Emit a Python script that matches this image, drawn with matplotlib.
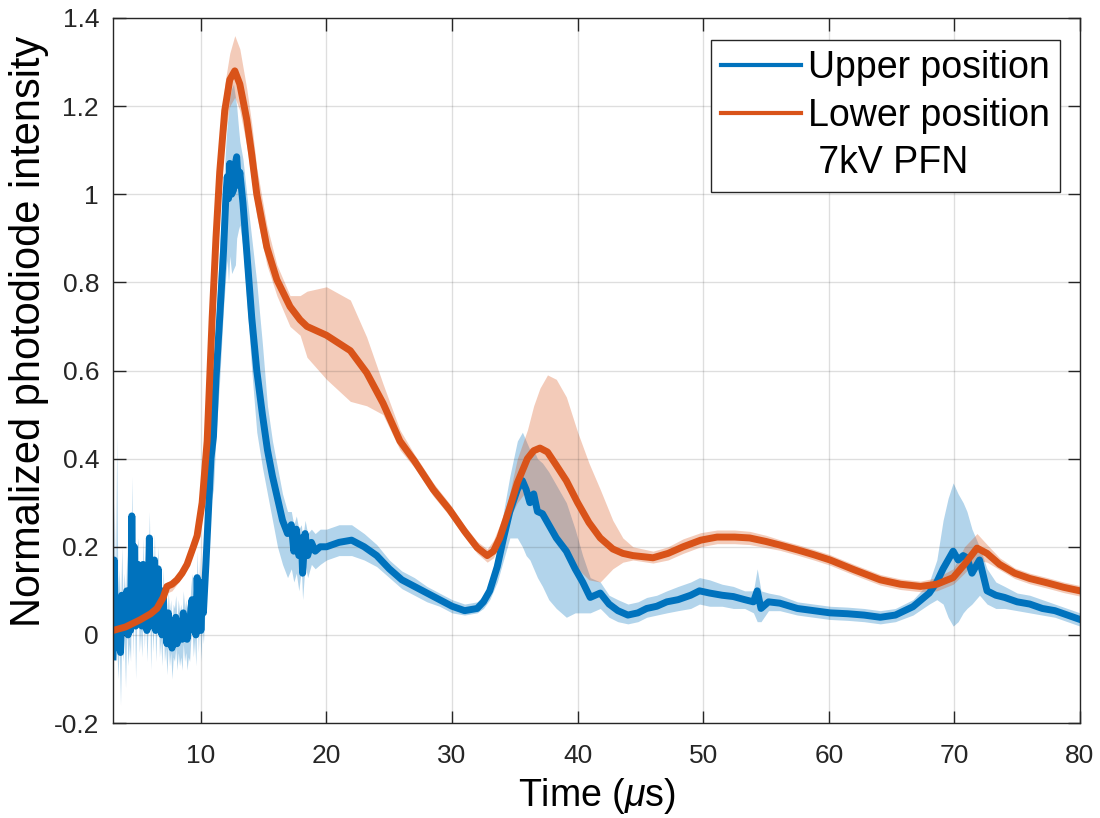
import numpy as np
import matplotlib
matplotlib.use("Agg")
import matplotlib.pyplot as plt
from matplotlib.lines import Line2D
from matplotlib.ticker import FuncFormatter, MultipleLocator

plt.rcParams["font.family"] = ["Liberation Sans", "DejaVu Sans"]
plt.rcParams["mathtext.fontset"] = "custom"
plt.rcParams["mathtext.it"] = "Liberation Sans:italic"
plt.rcParams["mathtext.rm"] = "Liberation Sans"

# --- upper position (blue): noisy pre-trigger part, 0.1 us sampling ---
upper_t_early = np.round(np.arange(3.0, 10.25, 0.1), 1)
upper_early = [
    -0.05, 0.17, 0.02, 0.08, -0.03, 0.06, -0.04, 0.09, 0.01, 0.07,
    0.02, 0.10, 0.00, 0.05, 0.01, 0.27, 0.03, 0.20, 0.02, 0.12,
    0.16, 0.03, 0.08, 0.02, 0.16, 0.04, 0.13, 0.01, 0.09, 0.22,
    0.02, 0.10, 0.03, 0.17, 0.01, 0.08, 0.15, 0.02, 0.06, 0.00,
    0.10, 0.01, 0.04, -0.02, 0.05, 0.00, 0.03, -0.03, 0.02, 0.01,
    0.04, -0.02, 0.03, 0.00, 0.02, -0.01, 0.05, 0.01, 0.03, -0.01,
    0.02, 0.01, 0.06, 0.08, 0.02, 0.06, 0.00, 0.13, 0.03, 0.12,
    0.01, 0.08, 0.05,
]
upper_early_hi = [
    0.05, 0.30, 0.10, 0.45, 0.06, 0.15, 0.05, 0.20, 0.08, 0.14,
    0.08, 0.18, 0.06, 0.12, 0.07, 0.36, 0.09, 0.27, 0.08, 0.19,
    0.22, 0.08, 0.14, 0.07, 0.22, 0.09, 0.19, 0.06, 0.15, 0.28,
    0.07, 0.16, 0.08, 0.23, 0.06, 0.13, 0.20, 0.07, 0.11, 0.05,
    0.15, 0.06, 0.09, 0.03, 0.10, 0.05, 0.08, 0.02, 0.07, 0.06,
    0.09, 0.03, 0.08, 0.05, 0.07, 0.04, 0.10, 0.06, 0.08, 0.04,
    0.07, 0.06, 0.11, 0.14, 0.07, 0.11, 0.05, 0.19, 0.08, 0.18,
    0.06, 0.13, 0.12,
]
upper_early_lo = [
    -0.12, 0.05, -0.06, -0.02, -0.10, -0.02, -0.16, 0.00, -0.06, -0.01,
    -0.12, 0.02, -0.07, -0.02, -0.06, 0.15, -0.05, 0.10, -0.10, 0.04,
    0.07, -0.04, 0.01, -0.05, 0.08, -0.03, 0.06, -0.06, 0.02, 0.14,
    -0.08, 0.03, -0.04, 0.10, -0.06, 0.01, 0.08, -0.05, -0.01, -0.07,
    0.03, -0.06, -0.03, -0.09, -0.02, -0.07, -0.04, -0.10, -0.05, -0.06,
    -0.03, -0.08, -0.04, -0.07, -0.05, -0.08, -0.02, -0.06, -0.04, -0.08,
    -0.05, -0.06, -0.01, 0.01, -0.05, -0.01, -0.07, 0.06, -0.04, 0.05,
    -0.06, 0.02, -0.02,
]

# --- upper position (blue): main pulse and after ---
upper_t = [
    10.4, 10.6, 10.8, 11.0, 11.2, 11.5, 11.8, 12.0, 12.1, 12.2,
    12.3, 12.45, 12.6, 12.75, 12.85, 13.0, 13.1, 13.35, 13.65, 14.05,
    14.45, 14.9, 15.3, 15.7, 16.1, 16.5, 16.9, 17.2, 17.4, 17.6,
    17.8, 18.0, 18.1, 18.3, 18.5, 18.8, 19.1, 19.5, 20.0, 21.0,
    22.0, 23.0, 24.0, 25.0, 26.0, 27.0, 28.0, 29.0, 30.0, 31.0,
    32.0, 32.5, 33.0, 33.6, 34.1, 34.6, 35.2, 35.6, 35.9, 36.2,
    36.5, 36.8, 37.2, 37.7, 38.3, 39.1, 39.8, 40.4, 41.0, 41.8,
    42.5, 43.2, 44.0, 44.8, 45.5, 46.3, 47.1, 48.0, 49.0, 49.7,
    50.5, 51.5, 52.4, 53.3, 54.0, 54.3, 54.6, 55.2, 56.1, 57.5,
    58.8, 60.1, 61.5, 62.8, 64.1, 65.3, 66.7, 68.0, 68.6, 69.1,
    69.5, 69.9, 70.3, 70.7, 71.0, 71.4, 72.0, 72.6, 73.3, 74.0,
    75.0, 76.0, 77.0, 78.0, 79.0, 80.0,
]
upper_mean = [
    0.16, 0.28, 0.40, 0.45, 0.58, 0.72, 0.87, 1.00, 1.04, 0.99,
    1.07, 1.00, 1.01, 1.07, 1.085, 1.02, 1.05, 0.98, 0.87, 0.72,
    0.60, 0.50, 0.42, 0.36, 0.31, 0.26, 0.23, 0.25, 0.19, 0.24,
    0.18, 0.22, 0.14, 0.23, 0.18, 0.21, 0.19, 0.20, 0.20, 0.21,
    0.215, 0.20, 0.18, 0.15, 0.125, 0.11, 0.095, 0.08, 0.065, 0.055,
    0.06, 0.075, 0.10, 0.155, 0.22, 0.28, 0.33, 0.35, 0.33, 0.30,
    0.32, 0.28, 0.275, 0.25, 0.22, 0.19, 0.15, 0.12, 0.085, 0.095,
    0.07, 0.055, 0.045, 0.05, 0.06, 0.065, 0.075, 0.08, 0.09, 0.10,
    0.095, 0.09, 0.087, 0.08, 0.075, 0.10, 0.06, 0.075, 0.072, 0.06,
    0.055, 0.05, 0.048, 0.045, 0.04, 0.045, 0.064, 0.095, 0.12, 0.15,
    0.17, 0.19, 0.17, 0.18, 0.175, 0.14, 0.17, 0.10, 0.09, 0.085,
    0.075, 0.07, 0.06, 0.055, 0.045, 0.035,
]
upper_lo = [
    0.10, 0.20, 0.30, 0.33, 0.45, 0.58, 0.74, 0.82, 0.85, 0.80,
    0.86, 0.82, 0.83, 0.84, 0.90, 0.92, 0.93, 0.88, 0.76, 0.60,
    0.46, 0.38, 0.32, 0.26, 0.20, 0.16, 0.13, 0.15, 0.12, 0.14,
    0.10, 0.15, 0.08, 0.16, 0.13, 0.16, 0.15, 0.16, 0.17, 0.18,
    0.18, 0.17, 0.155, 0.13, 0.105, 0.09, 0.075, 0.065, 0.05, 0.045,
    0.05, 0.06, 0.08, 0.12, 0.17, 0.22, 0.22, 0.20, 0.18, 0.17,
    0.15, 0.13, 0.11, 0.08, 0.06, 0.04, 0.05, 0.05, 0.05, 0.06,
    0.04, 0.03, 0.025, 0.03, 0.04, 0.045, 0.05, 0.055, 0.06, 0.07,
    0.065, 0.065, 0.06, 0.06, 0.05, 0.03, 0.03, 0.055, 0.055, 0.045,
    0.04, 0.035, 0.033, 0.03, 0.025, 0.03, 0.045, 0.07, 0.08, 0.07,
    0.04, 0.02, 0.03, 0.05, 0.06, 0.07, 0.09, 0.07, 0.06, 0.06,
    0.055, 0.05, 0.045, 0.04, 0.03, 0.02,
]
upper_hi = [
    0.22, 0.36, 0.50, 0.58, 0.72, 0.88, 1.02, 1.12, 1.16, 1.18,
    1.22, 1.24, 1.25, 1.22, 1.20, 1.15, 1.12, 1.08, 1.00, 0.90,
    0.80, 0.66, 0.52, 0.44, 0.38, 0.32, 0.28, 0.28, 0.25, 0.27,
    0.24, 0.25, 0.22, 0.26, 0.23, 0.24, 0.23, 0.24, 0.24, 0.25,
    0.25, 0.23, 0.205, 0.17, 0.145, 0.13, 0.11, 0.095, 0.08, 0.07,
    0.075, 0.09, 0.12, 0.19, 0.28, 0.36, 0.44, 0.46, 0.44, 0.42,
    0.42, 0.40, 0.39, 0.37, 0.34, 0.30, 0.24, 0.18, 0.13, 0.12,
    0.09, 0.08, 0.07, 0.075, 0.085, 0.09, 0.10, 0.11, 0.12, 0.13,
    0.125, 0.115, 0.11, 0.10, 0.10, 0.15, 0.10, 0.095, 0.09, 0.075,
    0.07, 0.065, 0.063, 0.06, 0.055, 0.06, 0.08, 0.12, 0.17, 0.26,
    0.31, 0.345, 0.32, 0.30, 0.28, 0.24, 0.20, 0.15, 0.12, 0.11,
    0.095, 0.09, 0.08, 0.07, 0.06, 0.05,
]

# --- lower position (orange) ---
lower_t = [
    3.0, 4.0, 5.15, 6.0, 6.5, 7.0, 7.3, 7.7, 8.1, 8.5,
    8.9, 9.4, 9.7, 10.1, 10.5, 10.9, 11.2, 11.5, 11.9, 12.3,
    12.7, 13.1, 13.65, 14.05, 14.45, 15.25, 16.05, 17.1, 17.9, 18.45,
    20.0, 21.9, 23.2, 24.5, 25.85, 27.0, 28.5, 29.8, 31.0, 32.0,
    32.8, 33.3, 33.8, 34.5, 35.2, 36.0, 36.5, 37.0, 37.6, 38.3,
    39.1, 40.0, 40.9, 41.8, 42.8, 43.6, 44.4, 46.0, 47.2, 48.4,
    49.8, 51.1, 52.5, 53.7, 55.0, 56.1, 57.5, 58.8, 60.1, 62.0,
    64.1, 65.7, 67.3, 68.6, 69.9, 70.8, 71.8, 72.6, 73.6, 74.8,
    76.0, 77.4, 78.7, 80.0,
]
lower_mean = [
    0.010, 0.018, 0.034, 0.048, 0.060, 0.085, 0.110, 0.115, 0.125, 0.140,
    0.160, 0.200, 0.225, 0.300, 0.440, 0.720, 0.900, 1.050, 1.190, 1.260,
    1.280, 1.250, 1.170, 1.090, 1.000, 0.880, 0.806, 0.745, 0.715, 0.700,
    0.680, 0.645, 0.595, 0.526, 0.440, 0.395, 0.330, 0.284, 0.235, 0.198,
    0.180, 0.190, 0.220, 0.280, 0.345, 0.400, 0.418, 0.424, 0.415, 0.385,
    0.350, 0.300, 0.255, 0.220, 0.195, 0.185, 0.180, 0.175, 0.185, 0.200,
    0.215, 0.222, 0.222, 0.220, 0.212, 0.204, 0.193, 0.182, 0.170, 0.148,
    0.125, 0.115, 0.110, 0.115, 0.130, 0.160, 0.197, 0.185, 0.160, 0.140,
    0.128, 0.118, 0.108, 0.100,
]
lower_lo = [
    0.000, 0.008, 0.024, 0.038, 0.050, 0.075, 0.095, 0.100, 0.115, 0.130,
    0.150, 0.185, 0.210, 0.280, 0.410, 0.680, 0.850, 1.000, 1.130, 1.200,
    1.220, 1.190, 1.110, 1.030, 0.950, 0.840, 0.770, 0.700, 0.680, 0.630,
    0.580, 0.530, 0.520, 0.500, 0.420, 0.380, 0.315, 0.270, 0.222, 0.185,
    0.165, 0.175, 0.205, 0.260, 0.300, 0.330, 0.310, 0.280, 0.250, 0.220,
    0.190, 0.150, 0.125, 0.120, 0.150, 0.165, 0.170, 0.163, 0.170, 0.185,
    0.200, 0.207, 0.207, 0.205, 0.198, 0.192, 0.181, 0.170, 0.158, 0.136,
    0.113, 0.103, 0.098, 0.100, 0.115, 0.140, 0.170, 0.165, 0.148, 0.128,
    0.116, 0.106, 0.096, 0.088,
]
lower_hi = [
    0.020, 0.028, 0.044, 0.058, 0.070, 0.100, 0.120, 0.125, 0.135, 0.150,
    0.170, 0.215, 0.240, 0.320, 0.470, 0.770, 0.950, 1.100, 1.250, 1.320,
    1.360, 1.330, 1.240, 1.160, 1.060, 0.930, 0.840, 0.770, 0.770, 0.780,
    0.790, 0.760, 0.676, 0.570, 0.465, 0.410, 0.345, 0.298, 0.248, 0.212,
    0.195, 0.215, 0.250, 0.310, 0.400, 0.465, 0.520, 0.560, 0.590, 0.580,
    0.540, 0.460, 0.390, 0.330, 0.260, 0.220, 0.200, 0.190, 0.200, 0.218,
    0.232, 0.238, 0.238, 0.235, 0.226, 0.216, 0.205, 0.194, 0.182, 0.160,
    0.137, 0.127, 0.122, 0.130, 0.150, 0.200, 0.230, 0.205, 0.175, 0.152,
    0.140, 0.130, 0.120, 0.112,
]

upper_label = "Upper position"
lower_label = "Lower position"
note_label = " 7kV PFN"
x_ticks = [10, 20, 30, 40, 50, 60, 70, 80]

BLUE = "#0072BD"
ORANGE = "#D95319"

t_up = np.concatenate([upper_t_early, upper_t])
y_up = np.concatenate([upper_early, upper_mean])
lo_up = np.concatenate([upper_early_lo, upper_lo])
hi_up = np.concatenate([upper_early_hi, upper_hi])

fig = plt.figure(figsize=(11, 8.18), dpi=100)
ax = fig.add_axes([0.1027, 0.1161, 0.8791, 0.8619])

# shaded spread first, orange band drawn over the blue line like the original
ax.fill_between(t_up, lo_up, hi_up, color=BLUE, alpha=0.3, lw=0)
ax.plot(t_up, y_up, color=BLUE, lw=5, solid_joinstyle="round")
ax.fill_between(lower_t, lower_lo, lower_hi, color=ORANGE, alpha=0.3, lw=0)
ax.plot(lower_t, lower_mean, color=ORANGE, lw=5, solid_joinstyle="round")

ax.set_xlim(3, 80)
ax.set_ylim(-0.2, 1.4)
ax.set_xticks(x_ticks)
ax.yaxis.set_major_locator(MultipleLocator(0.2))
ax.yaxis.set_major_formatter(FuncFormatter(lambda v, p: f"{round(v, 2):g}"))
ax.grid(True, color="#262626", alpha=0.15, lw=1)
ax.tick_params(direction="in", length=9, width=1, top=True, right=True,
               labelsize=19, colors="#262626")
ax.tick_params(axis="x", pad=15)
ax.tick_params(axis="y", pad=10)
for s in ax.spines.values():
    s.set_color("#262626")
    s.set_linewidth(1)

ax.set_xlabel(r"Time ($\mu$s)", fontsize=27, labelpad=6)
ax.set_ylabel("Normalized photodiode intensity", fontsize=30)
ax.yaxis.set_label_coords(-0.066, 0.555)

handles = [
    Line2D([], [], color=BLUE, lw=3),
    Line2D([], [], color=ORANGE, lw=3),
    Line2D([], [], color="none"),
]
leg = ax.legend(handles, [upper_label, lower_label, note_label],
                loc="upper right", bbox_to_anchor=(1060 / 1100, 1 - 40 / 818),
                bbox_transform=fig.transFigure, fontsize=27,
                fancybox=False, framealpha=1, edgecolor="#262626",
                borderpad=0.27, labelspacing=0.31, handlelength=2.13,
                handletextpad=0.19, borderaxespad=0)
leg.get_frame().set_linewidth(1)

fig.savefig("out.png", dpi=100)
